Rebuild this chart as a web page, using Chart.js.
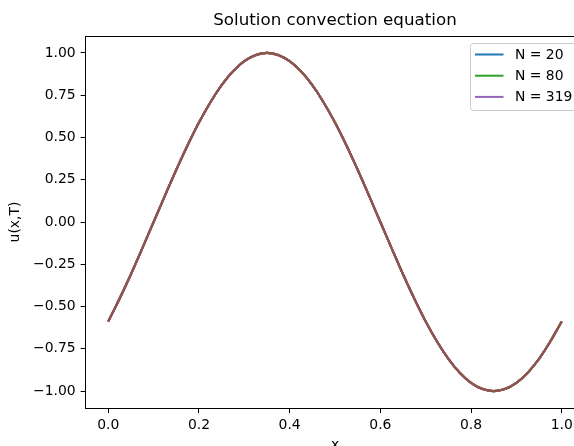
<!DOCTYPE html>
<html>
<head>
<meta charset="utf-8">
<script src="https://cdn.jsdelivr.net/npm/chart.js@4/dist/chart.umd.min.js"></script>
<style>
  html, body { margin: 0; padding: 0; background: #fff; overflow: hidden; }
  #wrap { width: 600px; height: 446px; }
</style>
</head>
<body>
<div id="wrap"><canvas id="conv" width="600" height="446"></canvas></div>
<script>
// grid for N = 20 (step 0.05)
let xCoarse = [0, 0.05, 0.1, 0.15, 0.2, 0.25, 0.3, 0.35, 0.4, 0.45, 0.5,
    0.55, 0.6, 0.65, 0.7, 0.75, 0.8, 0.85, 0.9, 0.95, 1.0];
let uCoarse = [-0.588, -0.309, 0, 0.309, 0.588, 0.809, 0.951, 1.0, 0.951, 0.809, 0.588,
    0.309, 0, -0.309, -0.588, -0.809, -0.951, -1.0, -0.951, -0.809, -0.588];

// finer grid (step 0.025)
let xFine = [0, 0.025, 0.05, 0.075, 0.1, 0.125, 0.15, 0.175, 0.2, 0.225, 0.25,
    0.275, 0.3, 0.325, 0.35, 0.375, 0.4, 0.425, 0.45, 0.475, 0.5,
    0.525, 0.55, 0.575, 0.6, 0.625, 0.65, 0.675, 0.7, 0.725, 0.75,
    0.775, 0.8, 0.825, 0.85, 0.875, 0.9, 0.925, 0.95, 0.975, 1.0];
let uFine = [-0.588, -0.454, -0.309, -0.156, 0, 0.156, 0.309, 0.454, 0.588, 0.707, 0.809,
    0.891, 0.951, 0.988, 1.0, 0.988, 0.951, 0.891, 0.809, 0.707, 0.588,
    0.454, 0.309, 0.156, 0, -0.156, -0.309, -0.454, -0.588, -0.707, -0.809,
    -0.891, -0.951, -0.988, -1.0, -0.988, -0.951, -0.891, -0.809, -0.707, -0.588];

let seriesNames = ['N = 20', '', 'N = 80', '', 'N = 319', ''];
let seriesColors = ['#1f77b4', '#ff7f0e', '#2ca02c', '#d62728', '#9467bd', '#8c564b'];

let xTicks = [0, 0.2, 0.4, 0.6, 0.8, 1.0];
let yTicks = [-1.0, -0.75, -0.5, -0.25, 0, 0.25, 0.5, 0.75, 1.0];

function pts(xs, ys) {
    return xs.map((x, i) => ({x: x, y: ys[i]}));
}

const seriesData = [
    pts(xCoarse, uCoarse), pts(xCoarse, uCoarse),
    pts(xFine, uFine), pts(xFine, uFine),
    pts(xFine, uFine), pts(xFine, uFine)
];

const FONT = 'DejaVu Sans';

const extras = {
    id: 'extras',
    afterDraw(chart) {
        const ctx = chart.ctx;
        const a = chart.chartArea;
        ctx.save();
        // top + right spines
        ctx.strokeStyle = '#000';
        ctx.lineWidth = 1;
        ctx.beginPath();
        ctx.moveTo(a.left, a.top + 0.5);
        ctx.lineTo(a.right, a.top + 0.5);
        ctx.lineTo(a.right, a.bottom);
        ctx.stroke();

        // title
        ctx.fillStyle = '#000';
        ctx.font = '16.7px ' + FONT;
        ctx.textAlign = 'center';
        ctx.textBaseline = 'middle';
        ctx.fillText('Solution convection equation', (a.left + a.right) / 2, 21);

        // axis labels
        ctx.font = '13.9px ' + FONT;
        ctx.fillText('x', (a.left + a.right) / 2, 445);
        ctx.translate(15, 222);
        ctx.rotate(-Math.PI / 2);
        ctx.fillText('u(x,T)', 0, 0);
        ctx.setTransform(1, 0, 0, 1, 0, 0);

        // legend
        const bx = 470.5, by = 43.5, bw = 107, bh = 67;
        ctx.fillStyle = 'rgba(255,255,255,0.8)';
        ctx.strokeStyle = '#cccccc';
        ctx.lineWidth = 1;
        ctx.beginPath();
        ctx.roundRect(bx, by, bw, bh, 3);
        ctx.fill();
        ctx.stroke();
        ctx.textAlign = 'left';
        ctx.font = '13.9px ' + FONT;
        let row = 0;
        chart.data.datasets.forEach(ds => {
            if (!ds.label) return;
            const y = 54.5 + row * 21.2;
            ctx.strokeStyle = ds.borderColor;
            ctx.lineWidth = 2;
            ctx.beginPath();
            ctx.moveTo(475, y);
            ctx.lineTo(503.5, y);
            ctx.stroke();
            ctx.fillStyle = '#000';
            ctx.fillText(ds.label, 515, y + 0.5);
            row++;
        });
        ctx.restore();
    }
};

const convChart = new Chart(document.getElementById('conv'), {
    type: 'line',
    data: {
        datasets: seriesData.map((d, i) => ({
            label: seriesNames[i],
            data: d,
            borderColor: seriesColors[i],
            backgroundColor: seriesColors[i],
            borderWidth: 2.1,
            pointRadius: 0,
            tension: 0.3,
            fill: false,
            order: 5 - i
        }))
    },
    options: {
        responsive: false,
        animation: false,
        layout: { padding: { left: 0, right: 15.6, top: 36, bottom: 0 } },
        plugins: {
            legend: { display: false },
            title: { display: false },
            tooltip: { enabled: false }
        },
        scales: {
            x: {
                type: 'linear',
                min: -0.05,
                max: 1.05,
                afterBuildTicks: s => { s.ticks = xTicks.map(v => ({value: v})); },
                afterFit: s => { s.height = 38; },
                grid: { drawOnChartArea: false, drawTicks: true, tickLength: 5, color: '#000', tickWidth: 1 },
                border: { display: true, color: '#000', width: 1 },
                ticks: {
                    color: '#000',
                    padding: 4,
                    maxRotation: 0,
                    font: { family: FONT, size: 13.9 },
                    callback: v => v.toFixed(1)
                }
            },
            y: {
                type: 'linear',
                min: -1.1,
                max: 1.1,
                afterBuildTicks: s => { s.ticks = yTicks.map(v => ({value: v})); },
                afterFit: s => { s.width = 85.6; },
                grid: { drawOnChartArea: false, drawTicks: true, tickLength: 5, color: '#000', tickWidth: 1 },
                border: { display: true, color: '#000', width: 1 },
                ticks: {
                    color: '#000',
                    padding: 5,
                    font: { family: FONT, size: 13.9 },
                    callback: v => (v < 0 ? '\u2212' : '') + Math.abs(v).toFixed(2)
                }
            }
        }
    },
    plugins: [extras]
});
</script>
</body>
</html>
